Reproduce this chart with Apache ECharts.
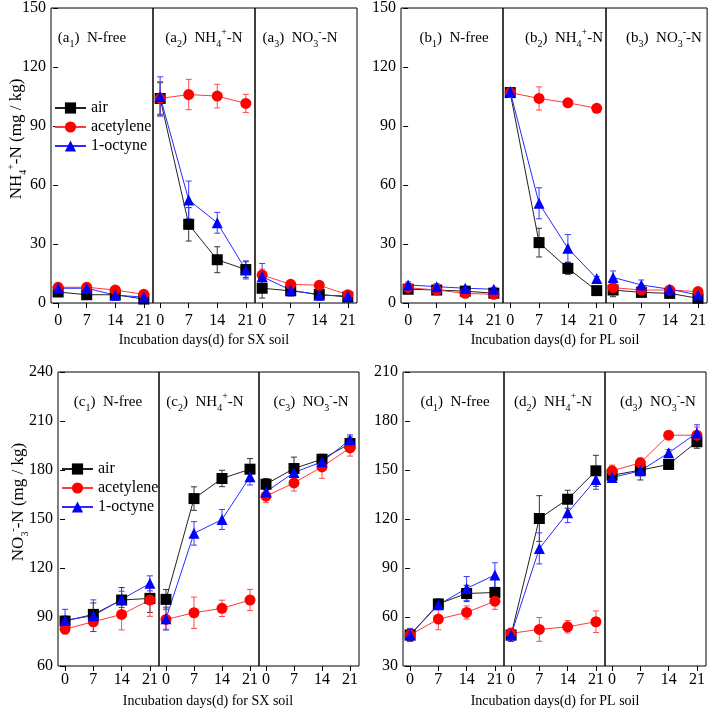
<!DOCTYPE html>
<html>
<head>
<meta charset="utf-8">
<script src="https://cdn.jsdelivr.net/npm/echarts@6/dist/echarts.min.js"></script>
<style>
html, body { margin: 0; padding: 0; background: #fff; }
#chart { width: 709px; height: 711px; }
</style>
</head>
<body>
<div id="chart"></div>
<script>
// 数据：每组12个值 = N-free | NH4+-N | NO3--N，各4个培养天数
const days = [0, 7, 14, 21];
const names = ['air', 'acetylene', '1-octyne'];

// NH4+-N，SX土壤
const sxNH4Air = [5.6, 4.2, 4.2, 2.0, 104, 40, 22, 17, 7.5, 6.2, 4.4, 3.0];
const sxNH4AirErr = [1.5, 1.2, 1, 0.8, 8, 8.5, 6.6, 4, 5, 2.5, 2, 1];
const sxNH4Acet = [8.0, 8.0, 6.6, 4.4, 104, 106, 105.2, 101.5, 14.2, 9.5, 9, 4.2];
const sxNH4AcetErr = [1.5, 1.5, 1, 1, 8.6, 7.7, 6, 4.6, 3, 1.5, 1.5, 1];
const sxNH4Oct = [7.5, 7.5, 4, 3, 105, 52.4, 40.8, 16.8, 13.4, 6.6, 4, 3.6];
const sxNH4OctErr = [2.5, 2, 2.5, 1.5, 10, 9.6, 5.3, 4.6, 6.7, 3, 2.5, 1];

// NH4+-N，PL土壤
const plNH4Air = [7, 6.6, 6, 5, 107, 30.7, 17.6, 6.3, 6.6, 5.4, 4.9, 2.4];
const plNH4AirErr = [1.5, 1.5, 1, 1, 1.5, 7.3, 3, 1, 3.4, 1.5, 1, 0.8];
const plNH4Acet = [7.8, 6.6, 4.9, 4.4, 107, 104, 101.8, 99, 7.8, 6.6, 6.6, 5.8];
const plNH4AcetErr = [1, 1, 1, 1, 1.5, 5.9, 1.5, 1, 1.5, 1, 1, 1];
const plNH4Oct = [9.2, 8.3, 7.5, 7, 107.5, 50.7, 27.8, 12.5, 13, 9.2, 7, 4.1];
const plNH4OctErr = [1.5, 1.5, 1, 1, 1.5, 7.9, 7, 1, 3.3, 2.5, 1.5, 1];

// NO3--N，SX土壤
const sxNO3Air = [87.5, 91.6, 100.4, 101.4, 100.8, 162.5, 174.8, 180.5, 171.3, 180.9, 186.6, 196.2];
const sxNO3AirErr = [3, 7, 7.6, 8.6, 6, 7.2, 5, 6.5, 3.5, 7, 3, 4];
const sxNO3Acet = [82.6, 87.1, 91.6, 100.4, 88.5, 92.6, 95.3, 100.4, 164, 172.1, 181.9, 193.5];
const sxNO3AcetErr = [3, 6, 9.5, 10, 6, 9.6, 5, 6.5, 4, 5, 7, 5];
const sxNO3Oct = [88, 90.8, 100.8, 110.6, 89, 141.2, 149.7, 175.8, 166.6, 178.5, 185, 198.5];
const sxNO3OctErr = [6.7, 9.7, 5, 4.6, 7, 7.2, 6.1, 5, 4, 5, 3, 3];

// NO3--N，PL土壤
const plNO3Air = [49, 68, 74.4, 75, 49, 120.3, 132.1, 149.5, 146.8, 149.9, 153.4, 167.3];
const plNO3AirErr = [3.5, 3, 5, 8, 4, 14, 5.5, 9.5, 3, 6, 2, 4];
const plNO3Acet = [49, 58.7, 62.8, 69.7, 50, 52.4, 54, 57.1, 149.5, 154.4, 171.3, 171.3];
const plNO3AcetErr = [4, 6.5, 4, 5, 3, 7.3, 3.8, 6.6, 3.5, 3, 2, 5];
const plNO3Oct = [49, 67.5, 77.5, 85.7, 49, 102, 123.8, 144.2, 145.4, 149.5, 160.5, 172.7];
const plNO3OctErr = [4, 3, 7.3, 7.5, 4, 9.5, 6, 6, 3, 3, 2, 5];

const FONT = 'Liberation Serif';
const symbols = ['rect', 'circle', 'triangle'];
const pointColors = ['#000000', '#ff0000', '#0000ff'];
const lineColors = ['#222222', '#ff3a3a', '#2a2aff'];
const errColors = ['#333333', '#ff4a4a', '#3a3aff'];

// 面板布局（像素）
const panels = [
    { id: 'a', xs: [51, 153, 255, 357], top: 8, bottom: 303, yMin: 0, yMax: 150, labelY: 38, tickMargin: 10,
      vals: [sxNH4Air, sxNH4Acet, sxNH4Oct], errs: [sxNH4AirErr, sxNH4AcetErr, sxNH4OctErr] },
    { id: 'b', xs: [401, 503, 606, 708], top: 8, bottom: 303, yMin: 0, yMax: 150, labelY: 38, tickMargin: 10,
      vals: [plNH4Air, plNH4Acet, plNH4Oct], errs: [plNH4AirErr, plNH4AcetErr, plNH4OctErr] },
    { id: 'c', xs: [58, 159, 259, 359], top: 372, bottom: 666, yMin: 60, yMax: 240, labelY: 402, tickMargin: 6,
      vals: [sxNO3Air, sxNO3Acet, sxNO3Oct], errs: [sxNO3AirErr, sxNO3AcetErr, sxNO3OctErr] },
    { id: 'd', xs: [403, 504, 605, 706], top: 372, bottom: 666, yMin: 30, yMax: 210, labelY: 402, tickMargin: 6,
      vals: [plNO3Air, plNO3Acet, plNO3Oct], errs: [plNO3AirErr, plNO3AcetErr, plNO3OctErr] }
];

const grid = [], xAxis = [], yAxis = [], lineSeries = [], errSeries = [];

function renderErr(params, api) {
    const x = api.value(0), y = api.value(1), e = api.value(2);
    const t = api.coord([x, y + e]);
    const b = api.coord([x, y - e]);
    const style = { stroke: api.visual('color'), lineWidth: 1 };
    return {
        type: 'group',
        children: [
            { type: 'line', shape: { x1: t[0], y1: t[1], x2: b[0], y2: b[1] }, style: style },
            { type: 'line', shape: { x1: t[0] - 3, y1: t[1], x2: t[0] + 3, y2: t[1] }, style: style },
            { type: 'line', shape: { x1: b[0] - 3, y1: b[1], x2: b[0] + 3, y2: b[1] }, style: style }
        ]
    };
}

panels.forEach(p => {
    for (let k = 0; k < 3; k++) {
        const gi = grid.length;
        grid.push({
            left: p.xs[k], top: p.top, width: p.xs[k + 1] - p.xs[k], height: p.bottom - p.top,
            show: true, borderColor: '#000', borderWidth: 1, backgroundColor: 'transparent'
        });
        xAxis.push({
            gridIndex: gi, type: 'value', min: -1.75, max: 23.25,
            axisLine: { show: false },
            splitLine: { show: false },
            axisTick: { show: true, customValues: days, length: 5, lineStyle: { color: '#000' } },
            axisLabel: { customValues: days, fontSize: 16, fontFamily: FONT, color: '#000', margin: p.tickMargin }
        });
        yAxis.push({
            gridIndex: gi, type: 'value', min: p.yMin, max: p.yMax, interval: 30,
            axisLine: { show: false },
            splitLine: { show: false },
            axisTick: { show: k === 0, length: 5, lineStyle: { color: '#000' } },
            axisLabel: { show: k === 0, fontSize: 16, fontFamily: FONT, color: '#000', margin: 5 }
        });
        for (let s = 0; s < 3; s++) {
            const v = p.vals[s].slice(k * 4, k * 4 + 4);
            const e = p.errs[s].slice(k * 4, k * 4 + 4);
            lineSeries.push({
                type: 'line', name: names[s], xAxisIndex: gi, yAxisIndex: gi,
                data: days.map((d, i) => [d, v[i]]),
                symbol: symbols[s], symbolSize: 11,
                itemStyle: { color: pointColors[s] },
                lineStyle: { color: lineColors[s], width: 1 },
                z: 3, silent: true
            });
            errSeries.push({
                type: 'custom', xAxisIndex: gi, yAxisIndex: gi,
                data: days.map((d, i) => [d, v[i], e[i]]),
                renderItem: renderErr,
                encode: { x: 0, y: 1 },
                itemStyle: { color: errColors[s] },
                z: 2, silent: true
            });
        }
    }
});

const rich = {
    s: { fontSize: 10, lineHeight: 11, verticalAlign: 'bottom', fontFamily: FONT, fill: '#000' },
    p: { fontSize: 10, lineHeight: 11, verticalAlign: 'top', fontFamily: FONT, fill: '#000' }
};

function txt(text, x, y, size, rot) {
    return {
        type: 'text', x: x, y: y, rotation: rot || 0, silent: true,
        style: {
            text: text, fontSize: size, fontFamily: FONT, fill: '#000', lineHeight: 22,
            align: 'center', verticalAlign: 'middle', textAlign: 'center', textVerticalAlign: 'middle',
            rich: rich
        }
    };
}

const graphics = [];
const labelCenters = { a: [92, 204, 300], b: [454, 564, 664], c: [108, 205, 311], d: [455, 553, 658] };
panels.forEach(p => {
    const c = labelCenters[p.id];
    graphics.push(txt('(' + p.id + '{s|1})  N-free', c[0], p.labelY, 15));
    graphics.push(txt('(' + p.id + '{s|2})  NH{s|4}{p|+}-N', c[1], p.labelY, 15));
    graphics.push(txt('(' + p.id + '{s|3})  NO{s|3}{p|-}-N', c[2], p.labelY, 15));
});
graphics.push(txt('Incubation days(d) for SX soil', 204, 340, 14));
graphics.push(txt('Incubation days(d) for PL soil', 555, 340, 14));
graphics.push(txt('Incubation days(d) for SX soil', 208, 701, 14));
graphics.push(txt('Incubation days(d) for PL soil', 555, 701, 14));
graphics.push(txt('NH{s|4}{p|+}-N (mg / kg)', 17, 139, 17, Math.PI / 2));
graphics.push(txt('NO{s|3}{p|-}-N (mg / kg)', 19, 502, 17, Math.PI / 2));

const legendBase = {
    orient: 'vertical', itemWidth: 31, itemHeight: 14, itemGap: 3, padding: 0,
    data: names, selectedMode: false,
    textStyle: { fontSize: 16, fontFamily: FONT, color: '#000', lineHeight: 15 }
};

const chart = echarts.init(document.getElementById('chart'));
chart.setOption({
    animation: false,
    backgroundColor: '#fff',
    grid: grid,
    xAxis: xAxis,
    yAxis: yAxis,
    legend: [
        Object.assign({ left: 54, top: 100 }, legendBase),
        Object.assign({ left: 61, top: 461 }, legendBase)
    ],
    graphic: graphics,
    series: lineSeries.concat(errSeries)
});
</script>
</body>
</html>
